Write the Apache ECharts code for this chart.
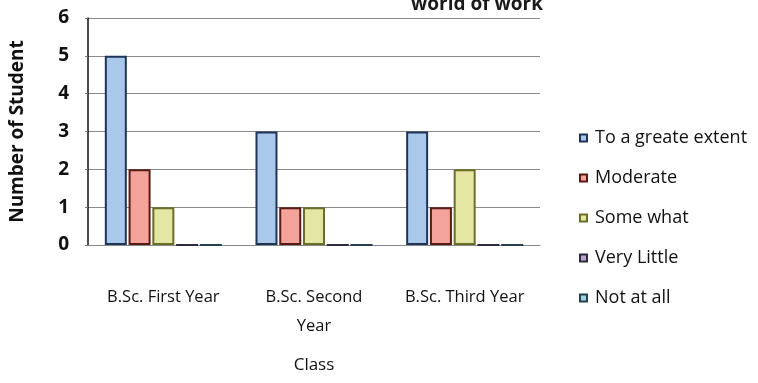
<!DOCTYPE html>
<html>
<head>
<meta charset="utf-8">
<script src="https://cdn.jsdelivr.net/npm/echarts@6/dist/echarts.min.js"></script>
<style>html,body{margin:0;padding:0;background:#fff;}#c{width:758px;height:383px;}</style>
</head>
<body>
<div id="c"></div>
<script>
var categories = ['B.Sc. First Year', 'B.Sc. Second\nYear', 'B.Sc. Third Year'];
var seriesNames = ['To a greate extent', 'Moderate', 'Some what', 'Very Little', 'Not at all'];
var greateExtent = [5, 3, 3];
var moderate = [2, 1, 1];
var someWhat = [1, 1, 2];
var veryLittle = [0, 0, 0];
var notAtAll = [0, 0, 0];
var yTicks = [0, 1, 2, 3, 4, 5, 6];

var fills = ['#a9c8ea', '#f4a39b', '#e4e6a4', '#b7a6cf', '#9fd2dc'];
var borders = ['#1f3557', '#5a1a14', '#6b6d2a', '#2d2a3a', '#24404a'];
var values = [greateExtent, moderate, someWhat, veryLittle, notAtAll];
var font = '"Open Sans", Lato, sans-serif';

var chart = echarts.init(document.getElementById('c'), null, {renderer: 'canvas'});
chart.setOption({
  animation: false,
  backgroundColor: '#ffffff',
  title: {
    text: 'world of work',
    right: 210,
    top: -10,
    textStyle: {fontFamily: font, fontSize: 19, fontWeight: 'bold', color: '#1a1a1a'}
  },
  grid: {left: 84, top: 18, right: 218, bottom: 138},
  legend: {
    orient: 'vertical',
    left: 574,
    top: 124,
    itemGap: 22,
    itemWidth: 7,
    itemHeight: 7,
    icon: 'rect',
    textStyle: {fontFamily: font, fontSize: 18, fontWeight: 500, color: '#111', padding: [0, 0, 0, 3]},
    data: seriesNames
  },
  xAxis: {
    type: 'category',
    data: categories,
    name: 'Class',
    nameLocation: 'middle',
    nameGap: 112,
    nameTextStyle: {fontFamily: font, fontSize: 17, fontWeight: 500, color: '#111'},
    axisLine: {show: true, lineStyle: {color: '#888'}},
    axisTick: {show: false},
    axisLabel: {interval: 0, hideOverlap: false, fontFamily: font, fontSize: 16.5, fontWeight: 500, color: '#111', margin: 38, lineHeight: 29}
  },
  yAxis: {
    type: 'value',
    min: 0,
    max: 6,
    interval: 1,
    name: 'Number of Student',
    nameLocation: 'middle',
    nameGap: 61,
    nameTextStyle: {fontFamily: font, fontSize: 19, fontWeight: 'bold', color: '#111'},
    axisLine: {show: true, lineStyle: {color: '#111', width: 1.5}},
    axisTick: {show: true, inside: false, length: 3, lineStyle: {color: '#777'}},
    axisLabel: {fontFamily: font, fontSize: 19, fontWeight: 'bold', color: '#111', margin: 19,
      formatter: function (v) { return yTicks.indexOf(v) >= 0 ? String(v) : ''; }},
    splitLine: {show: true, lineStyle: {color: '#8a8a8a', width: 1}}
  },
  series: seriesNames.map(function (n, i) {
    return {
      name: n,
      type: 'bar',
      data: values[i],
      barWidth: 22,
      barGap: '8%',
      itemStyle: {color: fills[i], borderColor: borders[i], borderWidth: 2}
    };
  })
});
</script>
</body>
</html>
